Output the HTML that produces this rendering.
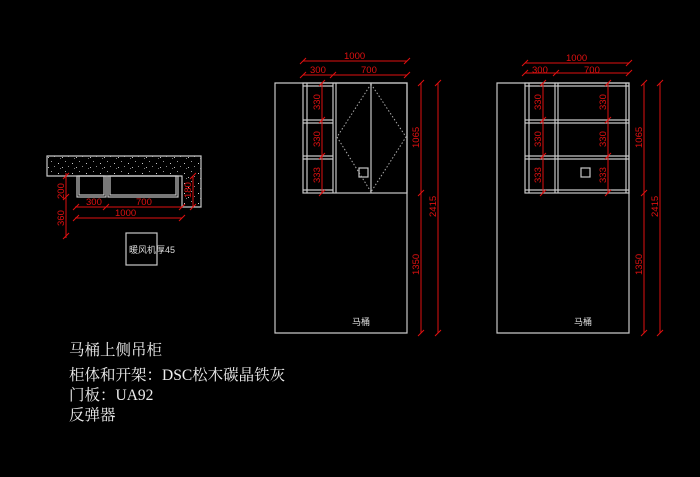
<!DOCTYPE html>
<html><head><meta charset="utf-8"><style>
html,body{margin:0;padding:0;background:#000;}
svg{display:block;}
</style></head><body>
<svg width="700" height="477" viewBox="0 0 700 477" xmlns="http://www.w3.org/2000/svg">
<rect width="700" height="477" fill="#000"/>
<defs>
<pattern id="speck" width="14" height="10" patternUnits="userSpaceOnUse">
<rect x="2" y="3" width="1" height="1" fill="#ccc"/><rect x="9" y="1" width="1" height="1" fill="#999"/><rect x="6" y="7" width="1" height="1" fill="#bbb"/><rect x="12" y="6" width="1" height="1" fill="#888"/><rect x="4" y="8" width="1" height="1" fill="#777"/>
</pattern>
</defs>
<g fill="none" stroke="#c8c8c8" stroke-width="1.2">
<path d="M47 156 H201 V207 H182 V176 H47 Z" fill="url(#speck)"/>
<rect x="77" y="176" width="29" height="21"/>
<rect x="79" y="176" width="25" height="19"/>
<rect x="108" y="176" width="70" height="21"/>
<rect x="110" y="176" width="66" height="19"/>
<rect x="126" y="233" width="31" height="32"/>
<path d="M303 83 H275 V333 H407 V83 Z"/>
<rect x="303" y="83" width="104" height="110"/>
<line x1="307" y1="83" x2="307" y2="193"/>
<line x1="333" y1="83" x2="333" y2="193"/>
<line x1="336" y1="83" x2="336" y2="193"/>
<line x1="371" y1="83" x2="371" y2="193"/>
<line x1="303" y1="86" x2="333" y2="86"/>
<line x1="303" y1="120" x2="333" y2="120"/><line x1="303" y1="123" x2="333" y2="123"/>
<line x1="303" y1="156" x2="333" y2="156"/><line x1="303" y1="159" x2="333" y2="159"/>
<line x1="303" y1="190" x2="333" y2="190"/>
<rect x="359" y="168" width="9" height="9"/>
<path d="M525 83 H497 V333 H629 V83 Z"/>
<rect x="525" y="83" width="104" height="110"/>
<line x1="529" y1="83" x2="529" y2="193"/>
<line x1="555" y1="83" x2="555" y2="193"/>
<line x1="558" y1="83" x2="558" y2="193"/>
<line x1="626" y1="83" x2="626" y2="193"/>
<line x1="525" y1="86" x2="629" y2="86"/>
<line x1="525" y1="120" x2="629" y2="120"/><line x1="525" y1="123" x2="629" y2="123"/>
<line x1="525" y1="156" x2="629" y2="156"/><line x1="525" y1="159" x2="629" y2="159"/>
<line x1="525" y1="190" x2="629" y2="190"/>
<rect x="581" y="168" width="9" height="9"/>
</g>
<g fill="none" stroke="#aaa" stroke-width="1" stroke-dasharray="1.5 2">
<path d="M371 84 L337 137 L371 192 M371 84 L406 137 L371 192"/>
</g>
<g stroke="#e01010" stroke-width="1" fill="none">
<line x1="66" y1="173" x2="66" y2="238"/>
<line x1="75" y1="207" x2="182" y2="207"/>
<line x1="75" y1="218" x2="182" y2="218"/>
<line x1="193" y1="176" x2="193" y2="207"/>
<path d="M63 179l6-6M63 200l6-6M63 239l6-6M73 210l6-6M103 210l6-6M179 210l6-6M73 221l6-6M179 221l6-6M190 179l6-6M190 210l6-6"/>
<line x1="303" y1="61" x2="407" y2="61"/>
<line x1="303" y1="75" x2="407" y2="75"/>
<line x1="322" y1="83" x2="322" y2="193"/>
<line x1="421" y1="83" x2="421" y2="333"/>
<line x1="438" y1="83" x2="438" y2="333"/>
<path d="M300 64l6-6M404 64l6-6M300 78l6-6M330 78l6-6M404 78l6-6M319 86l6-6M319 123l6-6M319 159l6-6M319 196l6-6M418 86l6-6M418 196l6-6M418 336l6-6M435 86l6-6M435 336l6-6"/>
<line x1="525" y1="63" x2="629" y2="63"/>
<line x1="525" y1="73" x2="629" y2="73"/>
<line x1="543" y1="83" x2="543" y2="193"/>
<line x1="608" y1="83" x2="608" y2="193"/>
<line x1="644" y1="83" x2="644" y2="333"/>
<line x1="660" y1="83" x2="660" y2="333"/>
<path d="M522 66l6-6M626 66l6-6M522 76l6-6M553 76l6-6M626 76l6-6M540 86l6-6M540 123l6-6M540 159l6-6M540 196l6-6M605 86l6-6M605 123l6-6M605 159l6-6M605 196l6-6M641 86l6-6M641 196l6-6M641 336l6-6M657 86l6-6M657 336l6-6"/>
</g>
<g fill="#e01010" font-family="Liberation Sans, sans-serif" font-size="9.5">
<text x="86" y="205">300</text><text x="136" y="205">700</text><text x="115" y="216">1000</text>
<text transform="translate(64,199) rotate(-90)">200</text>
<text transform="translate(64,226) rotate(-90)">360</text>
<text transform="translate(191,198) rotate(-90)">180</text>
<text x="344" y="59">1000</text><text x="310" y="73">300</text><text x="361" y="73">700</text>
<text transform="translate(320,110) rotate(-90)">330</text>
<text transform="translate(320,147) rotate(-90)">330</text>
<text transform="translate(320,183) rotate(-90)">333</text>
<text transform="translate(419,148) rotate(-90)">1065</text>
<text transform="translate(419,275) rotate(-90)">1350</text>
<text transform="translate(436,217) rotate(-90)">2415</text>
<text x="566" y="61">1000</text><text x="532" y="73">300</text><text x="584" y="73">700</text>
<text transform="translate(541,110) rotate(-90)">330</text>
<text transform="translate(541,147) rotate(-90)">330</text>
<text transform="translate(541,183) rotate(-90)">333</text>
<text transform="translate(606,110) rotate(-90)">330</text>
<text transform="translate(606,147) rotate(-90)">330</text>
<text transform="translate(606,183) rotate(-90)">333</text>
<text transform="translate(642,148) rotate(-90)">1065</text>
<text transform="translate(642,275) rotate(-90)">1350</text>
<text transform="translate(658,217) rotate(-90)">2415</text>
</g>
<g fill="#ddd" font-family="Liberation Sans, 'Noto Sans CJK SC', sans-serif" font-size="9">
<text x="129" y="253">暖风机厚45</text>
<text x="352" y="325">马桶</text>
<text x="574" y="325">马桶</text>
</g>
<g fill="#eee" font-family="Liberation Serif, 'Noto Serif CJK SC', serif" font-size="15.5">
<text x="69" y="355">马桶上侧吊柜</text>
<text x="69" y="380">柜体和开架：DSC松木碳晶铁灰</text>
<text x="69" y="400">门板：UA92</text>
<text x="69" y="420">反弹器</text>
</g>
</svg>
</body></html>
